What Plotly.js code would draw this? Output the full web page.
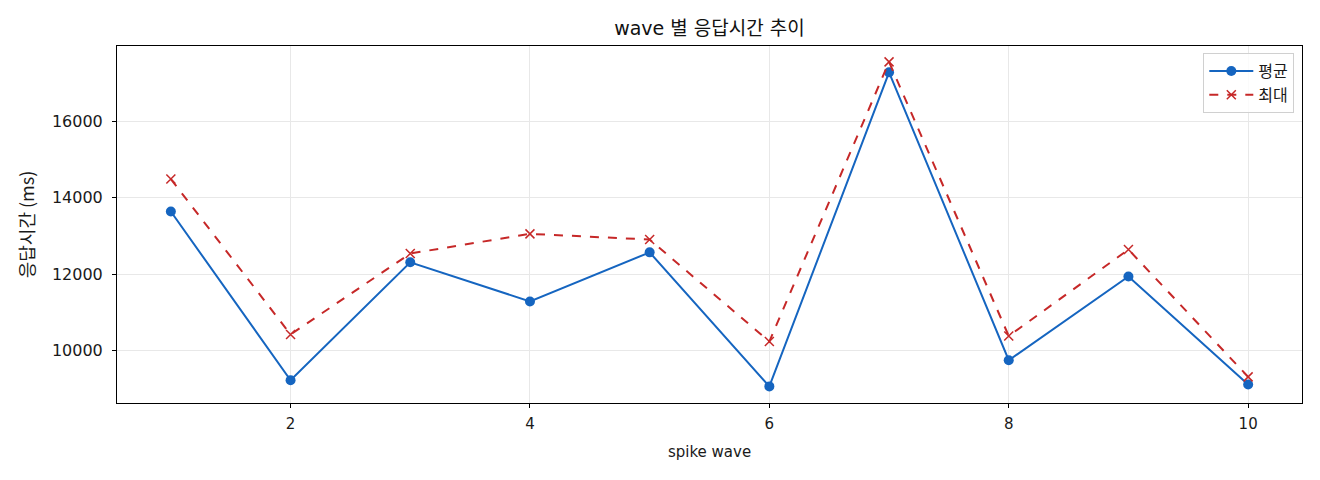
<!DOCTYPE html>
<html>
<head>
<meta charset="utf-8">
<script src="https://cdn.plot.ly/plotly-3.0.1.min.js"></script>
<style>
  html, body { margin: 0; padding: 0; background: #fff; }
  #chart { width: 1320px; height: 480px; }
</style>
</head>
<body>
<div id="chart"></div>
<script>
"use strict";

// values
const waves = [1, 2, 3, 4, 5, 6, 7, 8, 9, 10];
const avgMs = [13640, 9220, 12310, 11285, 12570, 9060, 17285, 9745, 11940, 9110];
const maxMs = [14490, 10420, 12540, 13055, 12905, 10235, 17560, 10380, 12645, 9310];
const xTicks = [2, 4, 6, 8, 10];
const yTicks = [10000, 12000, 14000, 16000];

// latin glyphs from DejaVu (wide, like the original), hangul falls back to Noto CJK
const FONT = "'DejaVu Sans', 'Noto Sans CJK KR', sans-serif";
const CJK = "'Noto Sans CJK KR', 'DejaVu Sans', sans-serif";

const data = [
  {
    x: waves, y: avgMs, name: "평균", mode: "lines+markers", type: "scatter",
    line: { color: "#1565c0", width: 2 },
    marker: { symbol: "circle", size: 10, color: "#1565c0" },
  },
  {
    x: waves, y: maxMs, name: "최대", mode: "lines+markers", type: "scatter",
    line: { color: "#c62828", width: 2, dash: "dash" },
    marker: { symbol: "x-thin", size: 9, line: { color: "#c62828", width: 1.5 } },
  },
];

const layout = {
  width: 1320,
  height: 480,
  paper_bgcolor: "#fff",
  plot_bgcolor: "#fff",
  font: { family: FONT, size: 14, color: "#1a1a1a" },
  margin: { l: 117, r: 18, t: 46, b: 77 },
  title: {
    text: "wave 별 응답시간 추이", xref: "paper", x: 0.5, xanchor: "center",
    y: 0.94, yanchor: "middle", font: { size: 19, color: "#111" },
  },
  xaxis: {
    range: [0.55, 10.45],
    tickvals: xTicks,
    tickfont: { size: 15 },
    ticks: "outside", ticklen: 4, tickcolor: "#000",
    ticklabelstandoff: 3,
    showline: true, mirror: true, linecolor: "#000", linewidth: 1,
    showgrid: true, gridcolor: "#e8e8e8", zeroline: false,
    title: { text: "spike wave", standoff: 14, font: { size: 15 } },
  },
  yaxis: {
    range: [8625, 17975],
    tickvals: yTicks,
    ticktext: yTicks.map(String),
    tickfont: { size: 16 },
    ticks: "outside", ticklen: 4, tickcolor: "#000",
    ticklabelstandoff: 6,
    showline: true, mirror: true, linecolor: "#000", linewidth: 1,
    showgrid: true, gridcolor: "#e8e8e8", zeroline: false,
    title: { text: "응답시간 (ms)", standoff: 12, font: { family: CJK, size: 18 } },
  },
  legend: {
    x: 0.9935, xanchor: "right", y: 0.98, yanchor: "top",
    bgcolor: "rgba(255,255,255,0.8)", bordercolor: "#d0d0d0", borderwidth: 1,
    itemwidth: 44,
    font: { family: CJK, size: 16 },
  },
  showlegend: true,
};

Plotly.newPlot("chart", data, layout, { displayModeBar: false, staticPlot: true });
</script>
</body>
</html>
